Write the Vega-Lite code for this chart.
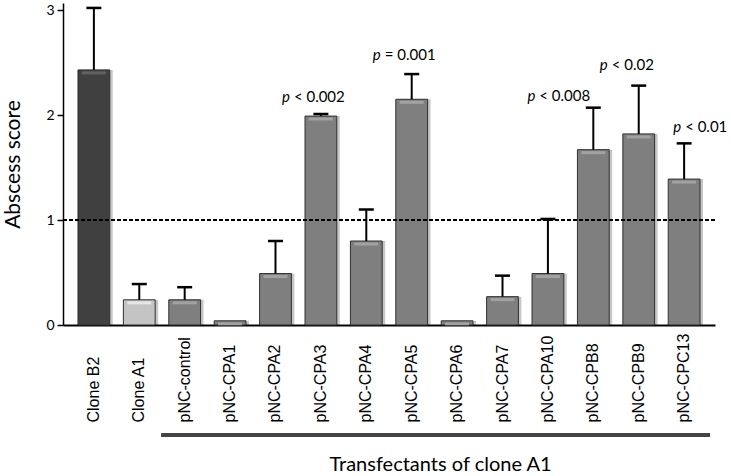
{
  "$schema": "https://vega.github.io/schema/vega-lite/v6.json",
  "width": 652,
  "height": 322,
  "autosize": {"type": "none"},
  "padding": {"left": 63, "top": 3, "right": 16, "bottom": 151},
  "background": "white",
  "config": {"view": {"stroke": null}},
  "resolve": {"scale": {"color": "independent"}},
  "data": {
    "values": [
      {"group": "Clone B2", "kind": "B2", "score": 2.43, "upper": 3.02},
      {"group": "Clone A1", "kind": "A1", "score": 0.24, "upper": 0.39},
      {"group": "pNC-control", "kind": "T", "score": 0.24, "upper": 0.36},
      {"group": "pNC-CPA1", "kind": "T", "score": 0.04},
      {"group": "pNC-CPA2", "kind": "T", "score": 0.49, "upper": 0.8},
      {"group": "pNC-CPA3", "kind": "T", "score": 1.99, "upper": 2.01, "p": "< 0.002", "label_y": 2.17},
      {"group": "pNC-CPA4", "kind": "T", "score": 0.8, "upper": 1.1},
      {"group": "pNC-CPA5", "kind": "T", "score": 2.15, "upper": 2.39, "p": "= 0.001", "label_y": 2.57},
      {"group": "pNC-CPA6", "kind": "T", "score": 0.04},
      {"group": "pNC-CPA7", "kind": "T", "score": 0.27, "upper": 0.47},
      {"group": "pNC-CPA10", "kind": "T", "score": 0.49, "upper": 1.01},
      {"group": "pNC-CPB8", "kind": "T", "score": 1.67, "upper": 2.07, "p": "< 0.008", "label_y": 2.18},
      {"group": "pNC-CPB9", "kind": "T", "score": 1.82, "upper": 2.28, "p": "< 0.02", "label_y": 2.48},
      {"group": "pNC-CPC13", "kind": "T", "score": 1.39, "upper": 1.73, "p": "< 0.01", "label_y": 1.89}
    ]
  },
  "encoding": {
    "x": {
      "field": "group",
      "type": "nominal",
      "sort": null,
      "scale": {"paddingInner": 0.3, "paddingOuter": 0.33},
      "axis": {
        "ticks": false,
        "domainColor": "black",
        "domainWidth": 2,
        "labelAngle": 270,
        "labelAlign": "left",
        "labelBaseline": "middle",
        "labelPadding": 97,
        "labelFont": "Liberation Sans",
        "labelFontSize": 16,
        "labelColor": "black",
        "title": "Transfectants of clone A1",
        "titleFont": "Lato",
        "titleFontSize": 20,
        "titleFontWeight": "normal",
        "titleColor": "black",
        "titleX": 377,
        "titleY": 129
      }
    }
  },
  "layer": [
    {
      "mark": {"type": "bar", "xOffset": 3, "fill": "black", "opacity": 0.22},
      "encoding": {
        "y": {"field": "score", "type": "quantitative"}
      }
    },
    {
      "mark": {"type": "bar", "stroke": "#303030", "strokeWidth": 1},
      "encoding": {
        "y": {
          "field": "score",
          "type": "quantitative",
          "scale": {"domain": [0, 3.067], "nice": false, "zero": true},
          "axis": {
            "values": [0, 1, 2, 3],
            "format": "d",
            "grid": false,
            "tickSize": 6,
            "tickWidth": 1.5,
            "tickColor": "black",
            "domainColor": "black",
            "domainWidth": 1.5,
            "labelFont": "Lato",
            "labelFontSize": 14,
            "labelColor": "black",
            "labelPadding": 3,
            "title": "Abscess score",
            "titleFont": "Lato",
            "titleFontSize": 21,
            "titleFontWeight": "normal",
            "titleColor": "black",
            "titlePadding": 22
          }
        },
        "color": {
          "field": "kind",
          "type": "nominal",
          "scale": {"domain": ["B2", "A1", "T"], "range": ["#404040", "#c4c4c4", "#7f7f7f"]},
          "legend": null
        }
      }
    },
    {
      "mark": {"type": "tick", "size": 24, "thickness": 3, "yOffset": 3, "opacity": 1},
      "encoding": {
        "y": {"field": "score", "type": "quantitative"},
        "color": {
          "field": "kind",
          "type": "nominal",
          "scale": {"domain": ["B2", "A1", "T"], "range": ["#626262", "#e6e6e6", "#a2a2a2"]},
          "legend": null
        }
      }
    },
    {
      "transform": [{"filter": "isValid(datum.upper)"}],
      "mark": {"type": "rule", "color": "black", "strokeWidth": 2},
      "encoding": {
        "y": {"field": "score", "type": "quantitative"},
        "y2": {"field": "upper"}
      }
    },
    {
      "transform": [{"filter": "isValid(datum.upper)"}],
      "mark": {"type": "tick", "color": "black", "size": 15, "thickness": 2.5, "opacity": 1},
      "encoding": {
        "y": {"field": "upper", "type": "quantitative"}
      }
    },
    {
      "mark": {"type": "rule", "color": "black", "strokeWidth": 1, "strokeDash": [4, 2]},
      "encoding": {
        "y": {"datum": 1},
        "x": null
      }
    },
    {
      "transform": [{"filter": "isValid(datum.p) && datum.group != 'pNC-CPB8' && datum.group != 'pNC-CPC13'"}],
      "layer": [
        {
          "mark": {"type": "text", "font": "Lato", "fontSize": 15, "fontStyle": "italic", "align": "right", "baseline": "middle", "dx": -31, "color": "black"},
          "encoding": {"y": {"field": "label_y", "type": "quantitative"}, "text": {"value": "p"}}
        },
        {
          "mark": {"type": "text", "font": "Lato", "fontSize": 15, "align": "left", "baseline": "middle", "dx": -27, "color": "black"},
          "encoding": {"y": {"field": "label_y", "type": "quantitative"}, "text": {"field": "p"}}
        }
      ]
    },
    {
      "transform": [{"filter": "datum.group == 'pNC-CPB8'"}],
      "layer": [
        {
          "mark": {"type": "text", "font": "Lato", "fontSize": 15, "fontStyle": "italic", "align": "right", "baseline": "middle", "dx": -58, "color": "black"},
          "encoding": {"y": {"field": "label_y", "type": "quantitative"}, "text": {"value": "p"}}
        },
        {
          "mark": {"type": "text", "font": "Lato", "fontSize": 15, "align": "left", "baseline": "middle", "dx": -54, "color": "black"},
          "encoding": {"y": {"field": "label_y", "type": "quantitative"}, "text": {"field": "p"}}
        }
      ]
    },
    {
      "transform": [{"filter": "datum.group == 'pNC-CPC13'"}],
      "layer": [
        {
          "mark": {"type": "text", "font": "Lato", "fontSize": 15, "fontStyle": "italic", "align": "right", "baseline": "middle", "dx": -3, "color": "black"},
          "encoding": {"y": {"field": "label_y", "type": "quantitative"}, "text": {"value": "p"}}
        },
        {
          "mark": {"type": "text", "font": "Lato", "fontSize": 15, "align": "left", "baseline": "middle", "dx": 1, "color": "black"},
          "encoding": {"y": {"field": "label_y", "type": "quantitative"}, "text": {"field": "p"}}
        }
      ]
    },
    {
      "mark": {"type": "rule", "color": "#444444", "strokeWidth": 3.5},
      "encoding": {
        "x": {"datum": "pNC-control", "bandPosition": -0.22},
        "x2": {"datum": "pNC-CPC13", "bandPosition": 1.3},
        "y": {"datum": -1.05}
      }
    }
  ]
}
